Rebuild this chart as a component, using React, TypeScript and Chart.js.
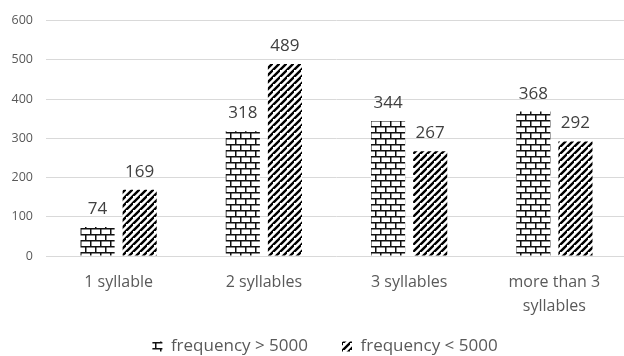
import React, { useEffect, useRef } from "react";
import { Chart, registerables } from "chart.js";

Chart.register(...registerables);

const categories: (string | string[])[] = ["1 syllable", "2 syllables", "3 syllables", ["more than 3", "syllables"]];
const seriesNames = ["frequency > 5000", "frequency < 5000"];
const highFreq = [74, 318, 344, 368];
const lowFreq = [169, 489, 267, 292];
const yMin = 0;
const yMax = 600;
const yStep = 100;

const FONT = '"Open Sans", "Noto Sans", sans-serif';

function brickPattern(ctx: CanvasRenderingContext2D): CanvasPattern | string {
  const w = 20;
  const h = 12;
  const c = document.createElement("canvas");
  c.width = w;
  c.height = h;
  const g = c.getContext("2d")!;
  g.fillStyle = "#ffffff";
  g.fillRect(0, 0, w, h);
  g.fillStyle = "#111111";
  const t = 1.5;
  // horizontal mortar lines
  g.fillRect(0, 0, w, t);
  g.fillRect(0, 6, w, t);
  // vertical joints, row 1
  g.fillRect(0, 0, t, 6);
  g.fillRect(10, 0, t, 6);
  // vertical joints, row 2 (offset)
  g.fillRect(5, 6, t, 6);
  g.fillRect(15, 6, t, 6);
  return ctx.createPattern(c, "repeat") || "#444";
}

function stripePattern(ctx: CanvasRenderingContext2D): CanvasPattern | string {
  const s = 7;
  const c = document.createElement("canvas");
  c.width = s;
  c.height = s;
  const g = c.getContext("2d")!;
  g.fillStyle = "#ffffff";
  g.fillRect(0, 0, s, s);
  g.strokeStyle = "#000000";
  g.lineWidth = 2.4;
  g.lineCap = "square";
  g.beginPath();
  g.moveTo(-s, 2 * s);
  g.lineTo(2 * s, -s);
  g.moveTo(-2 * s, s);
  g.lineTo(s, -2 * s);
  g.moveTo(0, 2 * s);
  g.lineTo(2 * s, 0);
  g.stroke();
  return ctx.createPattern(c, "repeat") || "#000";
}

const valueLabels = {
  id: "valueLabels",
  afterDatasetsDraw(chart: any) {
    const ctx = chart.ctx as CanvasRenderingContext2D;
    ctx.save();
    ctx.font = `17px ${FONT}`;
    ctx.fillStyle = "#404040";
    ctx.textAlign = "center";
    ctx.textBaseline = "alphabetic";
    chart.data.datasets.forEach((ds: any, i: number) => {
      const meta = chart.getDatasetMeta(i);
      meta.data.forEach((bar: any, j: number) => {
        ctx.fillText(String(ds.data[j]), bar.x, bar.y - 13);
      });
    });
    ctx.restore();
  },
};

// shift the legend block slightly right and let the two-line category labels overflow their box
const layoutTweaks = {
  id: "layoutTweaks",
  afterLayout(chart: any) {
    if (chart.legend) {
      chart.legend.left = 23;
    }
    const x = chart.scales.x;
    if (x) {
      x.bottom = x.top + 70;
    }
  },
};

export default function App() {
  const ref = useRef<HTMLCanvasElement | null>(null);

  useEffect(() => {
    const canvas = ref.current!;
    const ctx = canvas.getContext("2d")!;
    const chart = new Chart(ctx, {
      type: "bar",
      data: {
        labels: categories as any,
        datasets: [
          {
            label: seriesNames[0],
            data: highFreq,
            backgroundColor: brickPattern(ctx) as any,
            borderWidth: 0,
            barPercentage: 0.81,
            categoryPercentage: 0.58,
          },
          {
            label: seriesNames[1],
            data: lowFreq,
            backgroundColor: stripePattern(ctx) as any,
            borderWidth: 0,
            barPercentage: 0.81,
            categoryPercentage: 0.58,
          },
        ],
      },
      options: {
        responsive: false,
        animation: false,
        devicePixelRatio: 1,
        layout: { padding: { top: 20, left: 0, right: 0, bottom: 0 } },
        plugins: {
          legend: {
            display: true,
            position: "bottom",
            labels: {
              boxWidth: 10,
              boxHeight: 10,
              padding: 34,
              color: "#595959",
              font: { family: FONT, size: 17 },
            },
          },
          tooltip: { enabled: false },
        },
        scales: {
          x: {
            grid: { display: false, drawTicks: false },
            border: { display: false },
            ticks: {
              color: "#595959",
              font: { family: FONT, size: 16, lineHeight: 1.5 },
              padding: 14,
              maxRotation: 0,
              autoSkip: false,
            },
            afterFit(scale: any) {
              scale.height = 48;
            },
          },
          y: {
            min: yMin,
            max: yMax,
            grid: { color: "#d9d9d9", drawTicks: false, lineWidth: 1 },
            border: { display: false },
            ticks: {
              stepSize: yStep,
              color: "#595959",
              font: { family: FONT, size: 12.5 },
              padding: 13,
            },
            afterFit(scale: any) {
              scale.width = 46;
            },
          },
        },
      },
      plugins: [valueLabels, layoutTweaks],
    });
    return () => chart.destroy();
  }, []);

  return (
    <div style={{ position: "fixed", left: 0, top: 0, width: 624, height: 356, overflow: "hidden", background: "#fff" }}>
      <canvas ref={ref} width={627} height={365} style={{ width: 627, height: 365, display: "block" }} />
    </div>
  );
}
